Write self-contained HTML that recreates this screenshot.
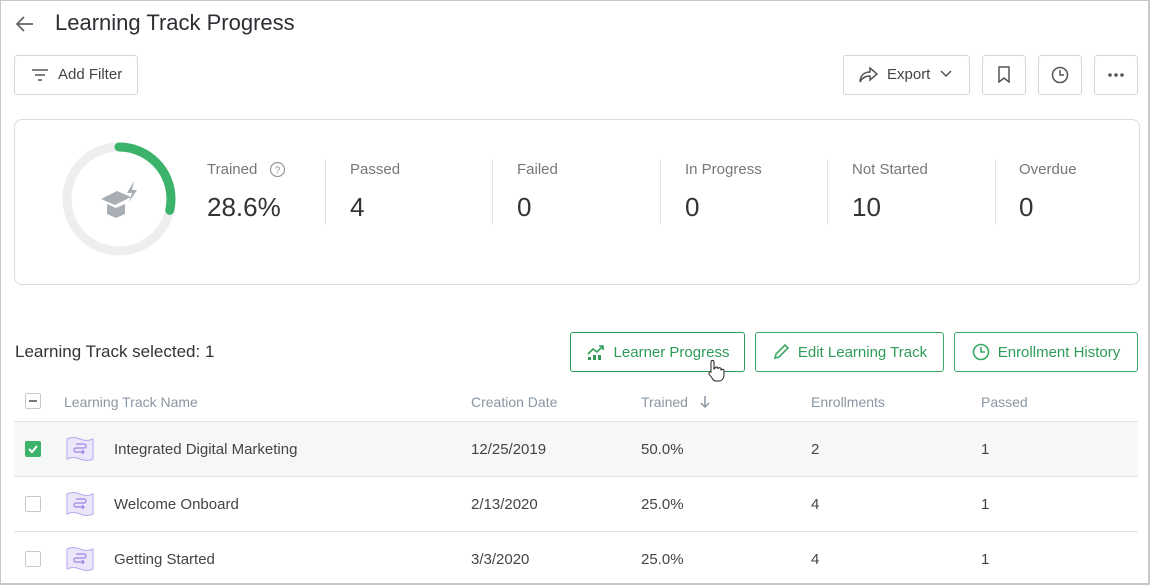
<!DOCTYPE html>
<html><head><style>
*{box-sizing:border-box;margin:0;padding:0}
body{width:1150px;height:585px;background:#fff;font-family:"Liberation Sans",sans-serif;color:#333;position:relative;overflow:hidden}
.frame{position:absolute;left:0;top:0;width:1150px;height:585px;border:1px solid #c8c8c8;border-right:2px solid #c8c8c8;border-bottom:2px solid #c8c8c8}
.abs{position:absolute}
.btn{position:absolute;border:1px solid #d4d6d9;border-radius:3px;background:#fff}
.gbtn{position:absolute;border:1px solid #3aa864;border-radius:3px;height:40px;top:332px;color:#2e9c58;font-size:15px;display:flex;align-items:center;justify-content:center;gap:8px}
.lbl{position:absolute;top:161px;font-size:15px;color:#777}
.val{position:absolute;top:192px;font-size:26px;color:#333}
.div{position:absolute;top:159px;width:1px;height:66px;background:#e2e2e2}
.th{position:absolute;top:394px;font-size:14px;color:#8a96a3}
.td{position:absolute;font-size:15px;color:#444}
.hl{position:absolute;left:14px;width:1124px;height:1px;background:#e3e3e3}
.cb{position:absolute;left:25px;width:16px;height:16px;border:1px solid #c8c8c8;border-radius:2px;background:#fff}
.ico{position:absolute;left:66px;width:28px;height:26px}
</style></head><body>
<div class="frame"></div>
<svg class="abs" style="left:14px;top:14px" width="22" height="20"><path d="M19 10H4M10 3L3 10l7 7" stroke="#666" stroke-width="1.8" fill="none"/></svg>
<div class="abs" style="left:55px;top:10px;font-size:22px;color:#2b2f33">Learning Track Progress</div>
<div class="btn" style="left:14px;top:55px;width:124px;height:40px"></div>
<svg class="abs" style="left:31px;top:68px" width="18" height="14"><path d="M1 2h16M4 7h10M7 12h4" stroke="#555" stroke-width="1.6"/></svg>
<div class="abs" style="left:58px;top:66px;font-size:15px;color:#444">Add Filter</div>
<div class="btn" style="left:843px;top:55px;width:127px;height:40px"></div>
<svg class="abs" style="left:859px;top:66px" width="20" height="18"><path d="M11 2l7 6-7 6v-4C6 10 3 12 1 16c0-6 4-10 10-10z" stroke="#555" stroke-width="1.5" fill="none"/></svg>
<div class="abs" style="left:887px;top:66px;font-size:15px;color:#444">Export</div>
<svg class="abs" style="left:940px;top:70px" width="12" height="8"><path d="M1 1l5 5 5-5" stroke="#555" stroke-width="1.5" fill="none"/></svg>
<div class="btn" style="left:982px;top:55px;width:44px;height:40px"></div>
<svg class="abs" style="left:997px;top:66px" width="14" height="17"><path d="M2 1h10v15l-5-4-5 4z" stroke="#555" stroke-width="1.5" fill="none"/></svg>
<div class="btn" style="left:1038px;top:55px;width:44px;height:40px"></div>
<svg class="abs" style="left:1051px;top:66px" width="18" height="18"><circle cx="9" cy="9" r="7.5" stroke="#555" stroke-width="1.5" fill="none"/><path d="M9 4v5h4" stroke="#555" stroke-width="1.5" fill="none"/></svg>
<div class="btn" style="left:1094px;top:55px;width:44px;height:40px"></div>
<svg class="abs" style="left:1106px;top:72px" width="20" height="6"><circle cx="4" cy="3" r="1.8" fill="#555"/><circle cx="10" cy="3" r="1.8" fill="#555"/><circle cx="16" cy="3" r="1.8" fill="#555"/></svg>

<div class="abs" style="left:14px;top:119px;width:1126px;height:166px;border:1px solid #dcdcdc;border-radius:8px"></div>
<svg class="abs" style="left:60px;top:140px" width="120" height="120">
<circle cx="59" cy="59" r="52" stroke="#edeef0" stroke-width="9" fill="none"/>
<circle cx="59" cy="59" r="52" stroke="#3bb36a" stroke-width="9" fill="none" stroke-linecap="round" stroke-dasharray="93 400" transform="rotate(-90 59 59)"/>
<path d="M41 59l16-8 14 6-16 8z" fill="#a9aeb4"/><path d="M47 64v10l9 4 9-4v-10l-9 4z" fill="#a9aeb4"/><path d="M74 41l-7 12h5l-3 9 8-12h-5z" fill="#a9aeb4"/>
</svg>
<div class="lbl" style="left:207px">Trained</div>
<svg class="abs" style="left:269px;top:161px" width="17" height="17"><circle cx="8.5" cy="8.5" r="7" stroke="#999" stroke-width="1.2" fill="none"/><text x="8.5" y="12.5" font-size="10" text-anchor="middle" fill="#999" font-family="Liberation Sans">?</text></svg>
<div class="val" style="left:207px">28.6%</div>
<div class="div" style="left:325px"></div>
<div class="lbl" style="left:350px">Passed</div><div class="val" style="left:350px">4</div>
<div class="div" style="left:492px"></div>
<div class="lbl" style="left:517px">Failed</div><div class="val" style="left:517px">0</div>
<div class="div" style="left:660px"></div>
<div class="lbl" style="left:685px">In Progress</div><div class="val" style="left:685px">0</div>
<div class="div" style="left:827px"></div>
<div class="lbl" style="left:852px">Not Started</div><div class="val" style="left:852px">10</div>
<div class="div" style="left:995px"></div>
<div class="lbl" style="left:1019px">Overdue</div><div class="val" style="left:1019px">0</div>

<div class="abs" style="left:15px;top:342px;font-size:17px;color:#333">Learning Track selected: 1</div>
<div class="gbtn" style="left:570px;width:175px;border-color:#2e9c58"><svg width="20" height="18"><path d="M2 11l5-5 4 3 6-6M13 3h4v4" stroke="#2e9c58" stroke-width="1.6" fill="none"/><rect x="2" y="14" width="3" height="3" fill="#2e9c58"/><rect x="7" y="12" width="3" height="5" fill="#2e9c58"/><rect x="12" y="12" width="3" height="5" fill="#2e9c58"/></svg>Learner Progress</div>
<div class="gbtn" style="left:755px;width:189px"><svg width="18" height="18"><path d="M3 15l1-4 9-9 3 3-9 9z" stroke="#3aa864" stroke-width="1.6" fill="none"/></svg>Edit Learning Track</div>
<div class="gbtn" style="left:954px;width:184px"><svg width="18" height="18"><circle cx="9" cy="9" r="7.5" stroke="#3aa864" stroke-width="1.6" fill="none"/><path d="M9 4v5h4" stroke="#3aa864" stroke-width="1.6" fill="none"/></svg>Enrollment History</div>
<svg class="abs" style="left:705px;top:359px" width="20" height="24"><path d="M6 13V3a1.5 1.5 0 013 0v7l1-.5a1.5 1.5 0 013 0v.5a1.5 1.5 0 013 .5v1a1.5 1.5 0 013 .5v4c0 3-2 6-5 6h-3c-2 0-3-1-4-3l-3-4a1.5 1.5 0 012-2z" stroke="#222" stroke-width="1" fill="#fff"/></svg>

<div class="cb" style="top:393px"></div><div class="abs" style="left:29px;top:400px;width:8px;height:1.5px;background:#777"></div>
<div class="th" style="left:64px">Learning Track Name</div>
<div class="th" style="left:471px">Creation Date</div>
<div class="th" style="left:641px">Trained</div>
<svg class="abs" style="left:699px;top:394px" width="12" height="16"><path d="M6 2v11M2 9l4 4 4-4" stroke="#8a96a3" stroke-width="1.5" fill="none"/></svg>
<div class="th" style="left:811px">Enrollments</div>
<div class="th" style="left:981px">Passed</div>
<div class="hl" style="top:421px"></div>
<div class="abs" style="left:14px;top:422px;width:1124px;height:54px;background:#f6f7f7"></div>
<div class="hl" style="top:476px"></div><div class="hl" style="top:531px"></div>

<div class="cb" style="top:441px;background:#3bb36a;border-color:#3bb36a"></div>
<svg class="abs" style="left:27px;top:443px" width="12" height="12"><path d="M2 6l3 3 5-6" stroke="#fff" stroke-width="2" fill="none"/></svg>
<svg class="ico" style="top:436px" viewBox="0 0 28 26"><path d="M1 3q6-3 13 0t13 0v20q-6 3-13 0t-13 0z" fill="#ece6fb" stroke="#b9a7ee"/><path d="M10 8h8a2 2 0 010 4h-8a2 2 0 000 4h8M16 14l2 2-2 2" stroke="#9a85e0" stroke-width="1.2" fill="none"/></svg>
<div class="td" style="left:114px;top:441px">Integrated Digital Marketing</div>
<div class="td" style="left:471px;top:441px">12/25/2019</div><div class="td" style="left:641px;top:441px">50.0%</div><div class="td" style="left:811px;top:441px">2</div><div class="td" style="left:981px;top:441px">1</div>

<div class="cb" style="top:496px"></div>
<svg class="ico" style="top:491px" viewBox="0 0 28 26"><path d="M1 3q6-3 13 0t13 0v20q-6 3-13 0t-13 0z" fill="#ece6fb" stroke="#b9a7ee"/><path d="M10 8h8a2 2 0 010 4h-8a2 2 0 000 4h8M16 14l2 2-2 2" stroke="#9a85e0" stroke-width="1.2" fill="none"/></svg>
<div class="td" style="left:114px;top:496px">Welcome Onboard</div>
<div class="td" style="left:471px;top:496px">2/13/2020</div><div class="td" style="left:641px;top:496px">25.0%</div><div class="td" style="left:811px;top:496px">4</div><div class="td" style="left:981px;top:496px">1</div>

<div class="cb" style="top:551px"></div>
<svg class="ico" style="top:546px" viewBox="0 0 28 26"><path d="M1 3q6-3 13 0t13 0v20q-6 3-13 0t-13 0z" fill="#ece6fb" stroke="#b9a7ee"/><path d="M10 8h8a2 2 0 010 4h-8a2 2 0 000 4h8M16 14l2 2-2 2" stroke="#9a85e0" stroke-width="1.2" fill="none"/></svg>
<div class="td" style="left:114px;top:551px">Getting Started</div>
<div class="td" style="left:471px;top:551px">3/3/2020</div><div class="td" style="left:641px;top:551px">25.0%</div><div class="td" style="left:811px;top:551px">4</div><div class="td" style="left:981px;top:551px">1</div>
</body></html>
